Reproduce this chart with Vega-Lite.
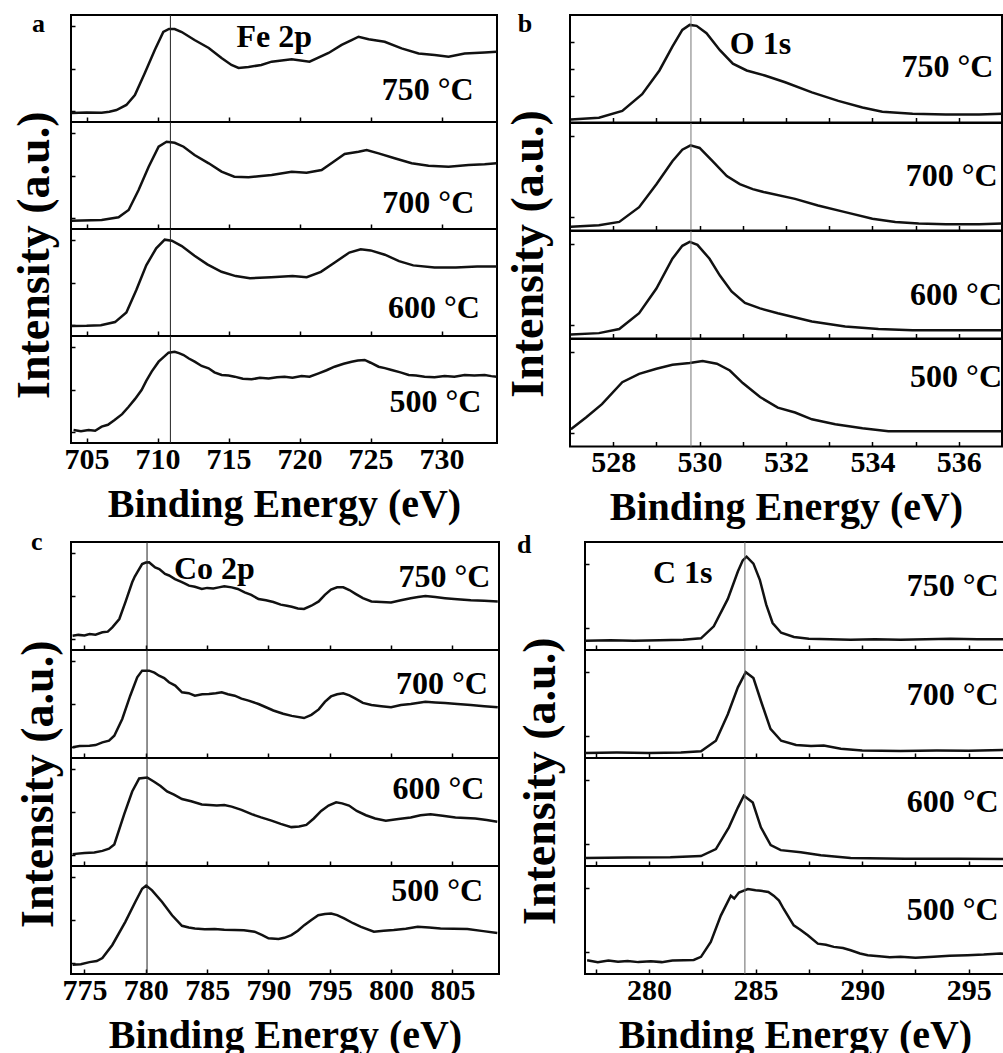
{
"$schema":"https://vega.github.io/schema/vega-lite/v6.json",
"background":"white",
"padding":{"left":12,"top":10,"right":0,"bottom":0},
"config":{
 "view":{"stroke":"black","strokeWidth":2},
 "axis":{"domain":false,"grid":false,"tickColor":"black","tickWidth":1.5,"labelFont":"Liberation Serif","labelFontWeight":"bold","labelFontSize":30,"labelColor":"black","titleFont":"Liberation Serif","titleFontWeight":"bold","titleFontSize":40,"titleColor":"black","labelOverlap":false,"labelFlush":false,"labelBound":false},
 "title":{"font":"Liberation Serif","fontWeight":"bold","color":"black"},
 "text":{"font":"Liberation Serif","fontWeight":"bold","fontSize":32,"color":"black","baseline":"alphabetic"},
 "line":{"color":"#111","strokeWidth":2.5},
 "rule":{"color":"#222","strokeWidth":1}
},
"datasets":{
"a":[
{"t":"750 °C","e":703.94,"i":0.084},{"t":"750 °C","e":705.0,"i":0.088},{"t":"750 °C","e":706.06,"i":0.087},{"t":"750 °C","e":706.6,"i":0.095},{"t":"750 °C","e":707.1,"i":0.112},{"t":"750 °C","e":707.8,"i":0.159},{"t":"750 °C","e":708.4,"i":0.252},{"t":"750 °C","e":709.1,"i":0.458},{"t":"750 °C","e":709.8,"i":0.673},{"t":"750 °C","e":710.4,"i":0.841},{"t":"750 °C","e":710.8,"i":0.869},{"t":"750 °C","e":711.2,"i":0.869},{"t":"750 °C","e":711.7,"i":0.841},{"t":"750 °C","e":712.6,"i":0.766},{"t":"750 °C","e":713.6,"i":0.692},{"t":"750 °C","e":714.5,"i":0.598},{"t":"750 °C","e":715.2,"i":0.533},{"t":"750 °C","e":715.7,"i":0.505},{"t":"750 °C","e":716.4,"i":0.514},{"t":"750 °C","e":717.3,"i":0.533},{"t":"750 °C","e":718.03,"i":0.564},{"t":"750 °C","e":719.44,"i":0.586},{"t":"750 °C","e":720.7,"i":0.564},{"t":"750 °C","e":722.04,"i":0.645},{"t":"750 °C","e":722.96,"i":0.72},{"t":"750 °C","e":723.66,"i":0.766},{"t":"750 °C","e":724.15,"i":0.797},{"t":"750 °C","e":724.86,"i":0.773},{"t":"750 °C","e":725.99,"i":0.75},{"t":"750 °C","e":727.18,"i":0.688},{"t":"750 °C","e":728.38,"i":0.641},{"t":"750 °C","e":729.51,"i":0.626},{"t":"750 °C","e":730.49,"i":0.61},{"t":"750 °C","e":731.62,"i":0.641},{"t":"750 °C","e":733.03,"i":0.65},{"t":"750 °C","e":733.87,"i":0.656},
{"t":"700 °C","e":703.94,"i":0.078},{"t":"700 °C","e":706.06,"i":0.084},{"t":"700 °C","e":707.25,"i":0.109},{"t":"700 °C","e":707.96,"i":0.178},{"t":"700 °C","e":708.66,"i":0.364},{"t":"700 °C","e":709.37,"i":0.582},{"t":"700 °C","e":710.07,"i":0.769},{"t":"700 °C","e":710.63,"i":0.815},{"t":"700 °C","e":711.2,"i":0.806},{"t":"700 °C","e":711.83,"i":0.769},{"t":"700 °C","e":712.6,"i":0.692},{"t":"700 °C","e":713.6,"i":0.614},{"t":"700 °C","e":714.5,"i":0.536},{"t":"700 °C","e":715.4,"i":0.489},{"t":"700 °C","e":716.4,"i":0.483},{"t":"700 °C","e":717.3,"i":0.495},{"t":"700 °C","e":718.03,"i":0.505},{"t":"700 °C","e":719.44,"i":0.536},{"t":"700 °C","e":720.49,"i":0.526},{"t":"700 °C","e":721.55,"i":0.551},{"t":"700 °C","e":722.39,"i":0.629},{"t":"700 °C","e":723.17,"i":0.701},{"t":"700 °C","e":724.15,"i":0.722},{"t":"700 °C","e":724.72,"i":0.738},{"t":"700 °C","e":725.56,"i":0.707},{"t":"700 °C","e":726.69,"i":0.661},{"t":"700 °C","e":727.89,"i":0.614},{"t":"700 °C","e":729.08,"i":0.592},{"t":"700 °C","e":730.49,"i":0.582},{"t":"700 °C","e":731.9,"i":0.598},{"t":"700 °C","e":733.03,"i":0.605},{"t":"700 °C","e":733.87,"i":0.614},
{"t":"600 °C","e":703.94,"i":0.093},{"t":"600 °C","e":705.0,"i":0.095},{"t":"600 °C","e":706.0,"i":0.1},{"t":"600 °C","e":707.0,"i":0.13},{"t":"600 °C","e":707.8,"i":0.22},{"t":"600 °C","e":708.5,"i":0.43},{"t":"600 °C","e":709.2,"i":0.66},{"t":"600 °C","e":709.9,"i":0.82},{"t":"600 °C","e":710.5,"i":0.9},{"t":"600 °C","e":711.0,"i":0.89},{"t":"600 °C","e":711.7,"i":0.84},{"t":"600 °C","e":712.6,"i":0.75},{"t":"600 °C","e":713.5,"i":0.67},{"t":"600 °C","e":714.5,"i":0.6},{"t":"600 °C","e":715.5,"i":0.56},{"t":"600 °C","e":716.5,"i":0.54},{"t":"600 °C","e":718.0,"i":0.55},{"t":"600 °C","e":719.5,"i":0.56},{"t":"600 °C","e":720.5,"i":0.55},{"t":"600 °C","e":721.5,"i":0.6},{"t":"600 °C","e":722.5,"i":0.69},{"t":"600 °C","e":723.5,"i":0.78},{"t":"600 °C","e":724.3,"i":0.81},{"t":"600 °C","e":725.0,"i":0.8},{"t":"600 °C","e":726.0,"i":0.76},{"t":"600 °C","e":727.0,"i":0.7},{"t":"600 °C","e":728.0,"i":0.66},{"t":"600 °C","e":729.5,"i":0.64},{"t":"600 °C","e":731.0,"i":0.64},{"t":"600 °C","e":732.5,"i":0.65},{"t":"600 °C","e":733.9,"i":0.65},
{"t":"500 °C","e":704.08,"i":0.121},{"t":"500 °C","e":704.6,"i":0.11},{"t":"500 °C","e":705.14,"i":0.121},{"t":"500 °C","e":705.6,"i":0.115},{"t":"500 °C","e":706.06,"i":0.153},{"t":"500 °C","e":706.5,"i":0.17},{"t":"500 °C","e":706.97,"i":0.215},{"t":"500 °C","e":707.5,"i":0.27},{"t":"500 °C","e":707.96,"i":0.339},{"t":"500 °C","e":708.4,"i":0.41},{"t":"500 °C","e":708.87,"i":0.495},{"t":"500 °C","e":709.2,"i":0.58},{"t":"500 °C","e":709.58,"i":0.667},{"t":"500 °C","e":710.07,"i":0.76},{"t":"500 °C","e":710.4,"i":0.8},{"t":"500 °C","e":710.77,"i":0.844},{"t":"500 °C","e":711.2,"i":0.853},{"t":"500 °C","e":711.5,"i":0.84},{"t":"500 °C","e":711.83,"i":0.822},{"t":"500 °C","e":712.2,"i":0.79},{"t":"500 °C","e":712.61,"i":0.76},{"t":"500 °C","e":713.1,"i":0.72},{"t":"500 °C","e":713.59,"i":0.698},{"t":"500 °C","e":714.0,"i":0.66},{"t":"500 °C","e":714.51,"i":0.636},{"t":"500 °C","e":715.0,"i":0.63},{"t":"500 °C","e":715.42,"i":0.62},{"t":"500 °C","e":716.0,"i":0.6},{"t":"500 °C","e":716.62,"i":0.595},{"t":"500 °C","e":717.2,"i":0.61},{"t":"500 °C","e":717.82,"i":0.604},{"t":"500 °C","e":718.4,"i":0.615},{"t":"500 °C","e":718.94,"i":0.62},{"t":"500 °C","e":719.5,"i":0.61},{"t":"500 °C","e":720.14,"i":0.626},{"t":"500 °C","e":720.7,"i":0.62},{"t":"500 °C","e":721.34,"i":0.651},{"t":"500 °C","e":721.9,"i":0.68},{"t":"500 °C","e":722.46,"i":0.713},{"t":"500 °C","e":723.1,"i":0.74},{"t":"500 °C","e":723.66,"i":0.76},{"t":"500 °C","e":724.1,"i":0.77},{"t":"500 °C","e":724.58,"i":0.776},{"t":"500 °C","e":725.0,"i":0.75},{"t":"500 °C","e":725.56,"i":0.713},{"t":"500 °C","e":726.0,"i":0.7},{"t":"500 °C","e":726.48,"i":0.682},{"t":"500 °C","e":727.1,"i":0.66},{"t":"500 °C","e":727.68,"i":0.636},{"t":"500 °C","e":728.2,"i":0.63},{"t":"500 °C","e":728.8,"i":0.62},{"t":"500 °C","e":729.5,"i":0.615},{"t":"500 °C","e":730.21,"i":0.626},{"t":"500 °C","e":730.9,"i":0.62},{"t":"500 °C","e":731.62,"i":0.636},{"t":"500 °C","e":732.3,"i":0.63},{"t":"500 °C","e":733.03,"i":0.636},{"t":"500 °C","e":733.5,"i":0.625},{"t":"500 °C","e":733.87,"i":0.62}
],
"b":[
{"t":"750 °C","e":527.02,"i":0.028},{"t":"750 °C","e":527.67,"i":0.044},{"t":"750 °C","e":528.21,"i":0.107},{"t":"750 °C","e":528.67,"i":0.264},{"t":"750 °C","e":529.07,"i":0.484},{"t":"750 °C","e":529.37,"i":0.705},{"t":"750 °C","e":529.6,"i":0.861},{"t":"750 °C","e":529.77,"i":0.908},{"t":"750 °C","e":529.93,"i":0.899},{"t":"750 °C","e":530.16,"i":0.83},{"t":"750 °C","e":530.47,"i":0.673},{"t":"750 °C","e":530.77,"i":0.547},{"t":"750 °C","e":531.09,"i":0.484},{"t":"750 °C","e":531.51,"i":0.437},{"t":"750 °C","e":531.98,"i":0.374},{"t":"750 °C","e":532.6,"i":0.28},{"t":"750 °C","e":533.21,"i":0.201},{"t":"750 °C","e":533.77,"i":0.139},{"t":"750 °C","e":534.23,"i":0.101},{"t":"750 °C","e":534.93,"i":0.082},{"t":"750 °C","e":535.7,"i":0.075},{"t":"750 °C","e":536.47,"i":0.075},{"t":"750 °C","e":537.0,"i":0.082},
{"t":"700 °C","e":527.02,"i":0.034},{"t":"700 °C","e":527.67,"i":0.049},{"t":"700 °C","e":528.14,"i":0.08},{"t":"700 °C","e":528.6,"i":0.217},{"t":"700 °C","e":529.0,"i":0.431},{"t":"700 °C","e":529.37,"i":0.645},{"t":"700 °C","e":529.6,"i":0.752},{"t":"700 °C","e":529.79,"i":0.792},{"t":"700 °C","e":530.0,"i":0.768},{"t":"700 °C","e":530.3,"i":0.645},{"t":"700 °C","e":530.63,"i":0.507},{"t":"700 °C","e":530.93,"i":0.431},{"t":"700 °C","e":531.23,"i":0.385},{"t":"700 °C","e":531.51,"i":0.355},{"t":"700 °C","e":532.21,"i":0.294},{"t":"700 °C","e":532.74,"i":0.232},{"t":"700 °C","e":533.37,"i":0.171},{"t":"700 °C","e":534.0,"i":0.11},{"t":"700 °C","e":534.53,"i":0.08},{"t":"700 °C","e":535.07,"i":0.064},{"t":"700 °C","e":535.7,"i":0.057},{"t":"700 °C","e":536.47,"i":0.057},{"t":"700 °C","e":537.0,"i":0.064},
{"t":"600 °C","e":527.02,"i":0.037},{"t":"600 °C","e":527.67,"i":0.05},{"t":"600 °C","e":528.14,"i":0.088},{"t":"600 °C","e":528.6,"i":0.235},{"t":"600 °C","e":529.0,"i":0.465},{"t":"600 °C","e":529.37,"i":0.742},{"t":"600 °C","e":529.6,"i":0.862},{"t":"600 °C","e":529.77,"i":0.899},{"t":"600 °C","e":529.95,"i":0.871},{"t":"600 °C","e":530.23,"i":0.742},{"t":"600 °C","e":530.47,"i":0.585},{"t":"600 °C","e":530.74,"i":0.438},{"t":"600 °C","e":531.05,"i":0.33},{"t":"600 °C","e":531.4,"i":0.28},{"t":"600 °C","e":531.81,"i":0.235},{"t":"600 °C","e":532.6,"i":0.159},{"t":"600 °C","e":533.37,"i":0.112},{"t":"600 °C","e":534.14,"i":0.088},{"t":"600 °C","e":534.93,"i":0.076},{"t":"600 °C","e":535.7,"i":0.076},{"t":"600 °C","e":537.0,"i":0.076},
{"t":"500 °C","e":527.02,"i":0.16},{"t":"500 °C","e":527.37,"i":0.27},{"t":"500 °C","e":527.74,"i":0.394},{"t":"500 °C","e":528.21,"i":0.598},{"t":"500 °C","e":528.6,"i":0.676},{"t":"500 °C","e":529.0,"i":0.723},{"t":"500 °C","e":529.37,"i":0.761},{"t":"500 °C","e":529.77,"i":0.777},{"t":"500 °C","e":530.07,"i":0.796},{"t":"500 °C","e":530.4,"i":0.77},{"t":"500 °C","e":530.7,"i":0.707},{"t":"500 °C","e":531.0,"i":0.59},{"t":"500 °C","e":531.4,"i":0.46},{"t":"500 °C","e":531.81,"i":0.362},{"t":"500 °C","e":532.21,"i":0.316},{"t":"500 °C","e":532.6,"i":0.253},{"t":"500 °C","e":533.14,"i":0.207},{"t":"500 °C","e":533.77,"i":0.169},{"t":"500 °C","e":534.37,"i":0.143},{"t":"500 °C","e":534.93,"i":0.143},{"t":"500 °C","e":535.7,"i":0.143},{"t":"500 °C","e":537.0,"i":0.143}
],
"c":[
{"t":"750 °C","e":774.03,"i":0.132},{"t":"750 °C","e":774.5,"i":0.14},{"t":"750 °C","e":775.0,"i":0.135},{"t":"750 °C","e":775.41,"i":0.148},{"t":"750 °C","e":775.9,"i":0.142},{"t":"750 °C","e":776.46,"i":0.164},{"t":"750 °C","e":776.9,"i":0.17},{"t":"750 °C","e":777.27,"i":0.21},{"t":"750 °C","e":777.84,"i":0.287},{"t":"750 °C","e":778.33,"i":0.441},{"t":"750 °C","e":778.89,"i":0.627},{"t":"750 °C","e":779.1,"i":0.68},{"t":"750 °C","e":779.3,"i":0.719},{"t":"750 °C","e":779.7,"i":0.796},{"t":"750 °C","e":780.0,"i":0.81},{"t":"750 °C","e":780.27,"i":0.812},{"t":"750 °C","e":780.5,"i":0.79},{"t":"750 °C","e":780.76,"i":0.765},{"t":"750 °C","e":781.1,"i":0.75},{"t":"750 °C","e":781.57,"i":0.704},{"t":"750 °C","e":781.9,"i":0.69},{"t":"750 °C","e":782.38,"i":0.657},{"t":"750 °C","e":782.9,"i":0.63},{"t":"750 °C","e":783.2,"i":0.615},{"t":"750 °C","e":783.52,"i":0.596},{"t":"750 °C","e":784.0,"i":0.585},{"t":"750 °C","e":784.57,"i":0.565},{"t":"750 °C","e":785.0,"i":0.575},{"t":"750 °C","e":785.5,"i":0.57},{"t":"750 °C","e":785.95,"i":0.58},{"t":"750 °C","e":786.4,"i":0.59},{"t":"750 °C","e":787.0,"i":0.58},{"t":"750 °C","e":787.5,"i":0.565},{"t":"750 °C","e":788.06,"i":0.534},{"t":"750 °C","e":788.6,"i":0.51},{"t":"750 °C","e":789.19,"i":0.472},{"t":"750 °C","e":789.8,"i":0.46},{"t":"750 °C","e":790.4,"i":0.444},{"t":"750 °C","e":791.0,"i":0.42},{"t":"750 °C","e":791.5,"i":0.41},{"t":"750 °C","e":791.9,"i":0.4},{"t":"750 °C","e":792.4,"i":0.385},{"t":"750 °C","e":792.9,"i":0.38},{"t":"750 °C","e":793.5,"i":0.41},{"t":"750 °C","e":794.1,"i":0.45},{"t":"750 °C","e":794.6,"i":0.51},{"t":"750 °C","e":795.1,"i":0.56},{"t":"750 °C","e":795.6,"i":0.58},{"t":"750 °C","e":796.1,"i":0.58},{"t":"750 °C","e":796.6,"i":0.555},{"t":"750 °C","e":797.1,"i":0.52},{"t":"750 °C","e":797.7,"i":0.48},{"t":"750 °C","e":798.4,"i":0.45},{"t":"750 °C","e":799.2,"i":0.445},{"t":"750 °C","e":800.0,"i":0.44},{"t":"750 °C","e":800.8,"i":0.46},{"t":"750 °C","e":801.6,"i":0.48},{"t":"750 °C","e":802.2,"i":0.49},{"t":"750 °C","e":802.8,"i":0.5},{"t":"750 °C","e":803.6,"i":0.49},{"t":"750 °C","e":804.4,"i":0.48},{"t":"750 °C","e":805.4,"i":0.47},{"t":"750 °C","e":806.5,"i":0.46},{"t":"750 °C","e":807.6,"i":0.455},{"t":"750 °C","e":808.7,"i":0.45},
{"t":"700 °C","e":774.03,"i":0.1},{"t":"700 °C","e":774.6,"i":0.11},{"t":"700 °C","e":775.41,"i":0.114},{"t":"700 °C","e":775.9,"i":0.12},{"t":"700 °C","e":776.46,"i":0.145},{"t":"700 °C","e":777.0,"i":0.16},{"t":"700 °C","e":777.43,"i":0.206},{"t":"700 °C","e":778.08,"i":0.361},{"t":"700 °C","e":778.73,"i":0.577},{"t":"700 °C","e":779.3,"i":0.747},{"t":"700 °C","e":779.7,"i":0.809},{"t":"700 °C","e":780.27,"i":0.809},{"t":"700 °C","e":780.7,"i":0.79},{"t":"700 °C","e":781.08,"i":0.762},{"t":"700 °C","e":781.5,"i":0.74},{"t":"700 °C","e":781.89,"i":0.701},{"t":"700 °C","e":782.4,"i":0.67},{"t":"700 °C","e":782.95,"i":0.608},{"t":"700 °C","e":783.5,"i":0.6},{"t":"700 °C","e":784.0,"i":0.577},{"t":"700 °C","e":784.6,"i":0.59},{"t":"700 °C","e":785.14,"i":0.593},{"t":"700 °C","e":785.7,"i":0.6},{"t":"700 °C","e":786.19,"i":0.608},{"t":"700 °C","e":786.7,"i":0.59},{"t":"700 °C","e":787.25,"i":0.577},{"t":"700 °C","e":787.8,"i":0.55},{"t":"700 °C","e":788.38,"i":0.531},{"t":"700 °C","e":789.19,"i":0.5},{"t":"700 °C","e":789.8,"i":0.47},{"t":"700 °C","e":790.4,"i":0.44},{"t":"700 °C","e":791.2,"i":0.41},{"t":"700 °C","e":791.9,"i":0.39},{"t":"700 °C","e":792.9,"i":0.37},{"t":"700 °C","e":793.5,"i":0.4},{"t":"700 °C","e":794.1,"i":0.45},{"t":"700 °C","e":794.6,"i":0.52},{"t":"700 °C","e":795.1,"i":0.57},{"t":"700 °C","e":795.6,"i":0.59},{"t":"700 °C","e":796.1,"i":0.6},{"t":"700 °C","e":796.6,"i":0.58},{"t":"700 °C","e":797.1,"i":0.55},{"t":"700 °C","e":797.7,"i":0.51},{"t":"700 °C","e":798.4,"i":0.49},{"t":"700 °C","e":799.2,"i":0.48},{"t":"700 °C","e":800.0,"i":0.47},{"t":"700 °C","e":800.8,"i":0.49},{"t":"700 °C","e":801.6,"i":0.5},{"t":"700 °C","e":802.8,"i":0.52},{"t":"700 °C","e":803.6,"i":0.515},{"t":"700 °C","e":804.4,"i":0.51},{"t":"700 °C","e":805.4,"i":0.5},{"t":"700 °C","e":806.5,"i":0.49},{"t":"700 °C","e":807.6,"i":0.48},{"t":"700 °C","e":808.7,"i":0.47},
{"t":"600 °C","e":774.03,"i":0.11},{"t":"600 °C","e":775.0,"i":0.12},{"t":"600 °C","e":775.8,"i":0.125},{"t":"600 °C","e":776.46,"i":0.14},{"t":"600 °C","e":777.0,"i":0.16},{"t":"600 °C","e":777.43,"i":0.2},{"t":"600 °C","e":778.24,"i":0.48},{"t":"600 °C","e":778.89,"i":0.69},{"t":"600 °C","e":779.46,"i":0.81},{"t":"600 °C","e":780.11,"i":0.82},{"t":"600 °C","e":780.68,"i":0.78},{"t":"600 °C","e":781.2,"i":0.74},{"t":"600 °C","e":781.73,"i":0.69},{"t":"600 °C","e":782.3,"i":0.66},{"t":"600 °C","e":782.95,"i":0.62},{"t":"600 °C","e":783.7,"i":0.6},{"t":"600 °C","e":784.57,"i":0.57},{"t":"600 °C","e":785.2,"i":0.565},{"t":"600 °C","e":785.79,"i":0.56},{"t":"600 °C","e":786.4,"i":0.565},{"t":"600 °C","e":787.0,"i":0.55},{"t":"600 °C","e":787.8,"i":0.52},{"t":"600 °C","e":788.63,"i":0.48},{"t":"600 °C","e":789.4,"i":0.45},{"t":"600 °C","e":790.25,"i":0.42},{"t":"600 °C","e":791.0,"i":0.39},{"t":"600 °C","e":791.87,"i":0.36},{"t":"600 °C","e":792.5,"i":0.365},{"t":"600 °C","e":793.09,"i":0.38},{"t":"600 °C","e":793.7,"i":0.44},{"t":"600 °C","e":794.3,"i":0.51},{"t":"600 °C","e":794.9,"i":0.56},{"t":"600 °C","e":795.52,"i":0.59},{"t":"600 °C","e":796.0,"i":0.58},{"t":"600 °C","e":796.57,"i":0.56},{"t":"600 °C","e":797.2,"i":0.51},{"t":"600 °C","e":797.95,"i":0.47},{"t":"600 °C","e":798.7,"i":0.44},{"t":"600 °C","e":799.57,"i":0.42},{"t":"600 °C","e":800.6,"i":0.435},{"t":"600 °C","e":801.6,"i":0.45},{"t":"600 °C","e":802.4,"i":0.47},{"t":"600 °C","e":803.22,"i":0.48},{"t":"600 °C","e":804.2,"i":0.465},{"t":"600 °C","e":805.25,"i":0.45},{"t":"600 °C","e":806.87,"i":0.44},{"t":"600 °C","e":807.8,"i":0.425},{"t":"600 °C","e":808.66,"i":0.41},
{"t":"500 °C","e":774.03,"i":0.085},{"t":"500 °C","e":774.7,"i":0.09},{"t":"500 °C","e":775.41,"i":0.11},{"t":"500 °C","e":776.0,"i":0.12},{"t":"500 °C","e":776.46,"i":0.147},{"t":"500 °C","e":777.27,"i":0.269},{"t":"500 °C","e":778.33,"i":0.483},{"t":"500 °C","e":779.14,"i":0.667},{"t":"500 °C","e":779.7,"i":0.789},{"t":"500 °C","e":780.03,"i":0.819},{"t":"500 °C","e":780.51,"i":0.774},{"t":"500 °C","e":781.33,"i":0.667},{"t":"500 °C","e":782.14,"i":0.544},{"t":"500 °C","e":782.95,"i":0.446},{"t":"500 °C","e":783.5,"i":0.43},{"t":"500 °C","e":784.0,"i":0.422},{"t":"500 °C","e":784.8,"i":0.415},{"t":"500 °C","e":785.62,"i":0.416},{"t":"500 °C","e":786.4,"i":0.41},{"t":"500 °C","e":787.25,"i":0.407},{"t":"500 °C","e":788.0,"i":0.405},{"t":"500 °C","e":788.87,"i":0.392},{"t":"500 °C","e":789.5,"i":0.36},{"t":"500 °C","e":790.0,"i":0.33},{"t":"500 °C","e":790.82,"i":0.324},{"t":"500 °C","e":791.3,"i":0.335},{"t":"500 °C","e":791.87,"i":0.36},{"t":"500 °C","e":792.4,"i":0.4},{"t":"500 °C","e":792.92,"i":0.452},{"t":"500 °C","e":793.5,"i":0.5},{"t":"500 °C","e":794.06,"i":0.544},{"t":"500 °C","e":794.6,"i":0.555},{"t":"500 °C","e":795.11,"i":0.56},{"t":"500 °C","e":795.6,"i":0.545},{"t":"500 °C","e":796.17,"i":0.514},{"t":"500 °C","e":796.9,"i":0.47},{"t":"500 °C","e":797.55,"i":0.437},{"t":"500 °C","e":798.6,"i":0.392},{"t":"500 °C","e":799.4,"i":0.4},{"t":"500 °C","e":800.22,"i":0.407},{"t":"500 °C","e":801.2,"i":0.42},{"t":"500 °C","e":802.17,"i":0.437},{"t":"500 °C","e":803.1,"i":0.43},{"t":"500 °C","e":804.03,"i":0.422},{"t":"500 °C","e":805.1,"i":0.42},{"t":"500 °C","e":806.22,"i":0.416},{"t":"500 °C","e":807.52,"i":0.397},{"t":"500 °C","e":808.66,"i":0.38}
],
"d":[
{"t":"750 °C","e":277.0,"i":0.086},{"t":"750 °C","e":278.2,"i":0.09},{"t":"750 °C","e":279.3,"i":0.086},{"t":"750 °C","e":280.5,"i":0.09},{"t":"750 °C","e":281.6,"i":0.095},{"t":"750 °C","e":282.44,"i":0.108},{"t":"750 °C","e":283.04,"i":0.219},{"t":"750 °C","e":283.7,"i":0.473},{"t":"750 °C","e":284.17,"i":0.727},{"t":"750 °C","e":284.4,"i":0.83},{"t":"750 °C","e":284.58,"i":0.864},{"t":"750 °C","e":284.9,"i":0.8},{"t":"750 °C","e":285.2,"i":0.65},{"t":"750 °C","e":285.5,"i":0.42},{"t":"750 °C","e":285.8,"i":0.25},{"t":"750 °C","e":286.2,"i":0.16},{"t":"750 °C","e":286.8,"i":0.12},{"t":"750 °C","e":287.5,"i":0.105},{"t":"750 °C","e":288.5,"i":0.1},{"t":"750 °C","e":289.46,"i":0.095},{"t":"750 °C","e":290.6,"i":0.1},{"t":"750 °C","e":291.8,"i":0.095},{"t":"750 °C","e":293.0,"i":0.1},{"t":"750 °C","e":294.15,"i":0.105},{"t":"750 °C","e":295.4,"i":0.1},{"t":"750 °C","e":296.7,"i":0.1},
{"t":"700 °C","e":277.0,"i":0.047},{"t":"700 °C","e":278.5,"i":0.05},{"t":"700 °C","e":280.0,"i":0.047},{"t":"700 °C","e":281.5,"i":0.052},{"t":"700 °C","e":282.44,"i":0.063},{"t":"700 °C","e":283.14,"i":0.16},{"t":"700 °C","e":283.7,"i":0.405},{"t":"700 °C","e":284.17,"i":0.654},{"t":"700 °C","e":284.54,"i":0.794},{"t":"700 °C","e":284.9,"i":0.74},{"t":"700 °C","e":285.3,"i":0.5},{"t":"700 °C","e":285.7,"i":0.27},{"t":"700 °C","e":286.2,"i":0.16},{"t":"700 °C","e":286.9,"i":0.12},{"t":"700 °C","e":287.6,"i":0.11},{"t":"700 °C","e":288.2,"i":0.115},{"t":"700 °C","e":289.0,"i":0.085},{"t":"700 °C","e":290.0,"i":0.07},{"t":"700 °C","e":291.8,"i":0.065},{"t":"700 °C","e":293.5,"i":0.07},{"t":"700 °C","e":295.0,"i":0.068},{"t":"700 °C","e":296.7,"i":0.075},
{"t":"600 °C","e":277.0,"i":0.073},{"t":"600 °C","e":279.0,"i":0.078},{"t":"600 °C","e":281.0,"i":0.082},{"t":"600 °C","e":282.44,"i":0.092},{"t":"600 °C","e":283.14,"i":0.156},{"t":"600 °C","e":283.75,"i":0.358},{"t":"600 °C","e":284.17,"i":0.541},{"t":"600 °C","e":284.45,"i":0.651},{"t":"600 °C","e":284.87,"i":0.587},{"t":"600 °C","e":285.25,"i":0.358},{"t":"600 °C","e":285.71,"i":0.193},{"t":"600 °C","e":286.18,"i":0.147},{"t":"600 °C","e":287.12,"i":0.128},{"t":"600 °C","e":288.06,"i":0.1},{"t":"600 °C","e":289.46,"i":0.073},{"t":"600 °C","e":292.0,"i":0.068},{"t":"600 °C","e":294.5,"i":0.066},{"t":"600 °C","e":296.7,"i":0.064},
{"t":"500 °C","e":277.1,"i":0.128},{"t":"500 °C","e":277.6,"i":0.11},{"t":"500 °C","e":278.1,"i":0.125},{"t":"500 °C","e":278.55,"i":0.113},{"t":"500 °C","e":279.0,"i":0.12},{"t":"500 °C","e":279.5,"i":0.11},{"t":"500 °C","e":280.09,"i":0.119},{"t":"500 °C","e":280.6,"i":0.11},{"t":"500 °C","e":281.1,"i":0.125},{"t":"500 °C","e":281.64,"i":0.128},{"t":"500 °C","e":282.1,"i":0.13},{"t":"500 °C","e":282.44,"i":0.159},{"t":"500 °C","e":282.9,"i":0.296},{"t":"500 °C","e":283.37,"i":0.541},{"t":"500 °C","e":283.84,"i":0.725},{"t":"500 °C","e":284.0,"i":0.7},{"t":"500 °C","e":284.22,"i":0.755},{"t":"500 °C","e":284.64,"i":0.786},{"t":"500 °C","e":285.0,"i":0.775},{"t":"500 °C","e":285.25,"i":0.771},{"t":"500 °C","e":285.6,"i":0.76},{"t":"500 °C","e":285.85,"i":0.725},{"t":"500 °C","e":286.1,"i":0.68},{"t":"500 °C","e":286.32,"i":0.602},{"t":"500 °C","e":286.79,"i":0.45},{"t":"500 °C","e":287.1,"i":0.41},{"t":"500 °C","e":287.45,"i":0.358},{"t":"500 °C","e":287.92,"i":0.281},{"t":"500 °C","e":288.3,"i":0.27},{"t":"500 °C","e":288.67,"i":0.251},{"t":"500 °C","e":289.1,"i":0.24},{"t":"500 °C","e":289.46,"i":0.22},{"t":"500 °C","e":289.9,"i":0.19},{"t":"500 °C","e":290.26,"i":0.174},{"t":"500 °C","e":290.8,"i":0.165},{"t":"500 °C","e":291.3,"i":0.155},{"t":"500 °C","e":291.8,"i":0.159},{"t":"500 °C","e":292.5,"i":0.15},{"t":"500 °C","e":293.35,"i":0.159},{"t":"500 °C","e":294.1,"i":0.17},{"t":"500 °C","e":294.94,"i":0.174},{"t":"500 °C","e":295.7,"i":0.18},{"t":"500 °C","e":296.49,"i":0.19},{"t":"500 °C","e":296.7,"i":0.185}
]
},
"spacing":-1,
"vconcat":[
{"hconcat":[
{"title":{"text":"a","anchor":"start","frame":"bounds","offset":-44,"dx":20,"fontSize":26,"baseline":"alphabetic"},
 "vconcat":[{"title":{"text":"Intensity (a.u.)","orient":"left","anchor":"middle","frame":"bounds","fontSize":46,"offset":4,"dx":14},
 "spacing":0,"bounds":"flush",
 "vconcat":[
 {"width":426,"height":107,"layer":[
  {"data":{"name":"a"},"transform":[{"filter":"datum.t == '750 °C'"}],"mark":"line","encoding":{"x":{"field":"e","type":"quantitative","scale":{"domain":[703.9,733.9],"nice":false},"axis":{"values":[705,707.5,710,712.5,715,717.5,720,722.5,725,727.5,730,732.5],"labels":false,"title":null,"tickSize":-5}},"y":{"field":"i","type":"quantitative","scale":{"domain":[0,1],"nice":false},"axis":{"values":[0.1,0.2,0.3,0.4,0.5,0.6,0.7,0.8,0.9],"labels":false,"title":null,"tickSize":-4}}}},
  {"data":{"values":[{}]},"mark":"rule","encoding":{"x":{"datum":710.9}}},
  {"data":{"values":[{"s":"750 °C"}]},"mark":{"type":"text","align":"right"},"encoding":{"text":{"field":"s"},"x":{"datum":732.25},"y":{"datum":0.206}}},
  {"data":{"values":[{"s":"Fe 2p"}]},"mark":{"type":"text","align":"left"},"encoding":{"text":{"field":"s"},"x":{"datum":715.56},"y":{"datum":0.7}}}
 ]},
 {"width":426,"height":107,"layer":[
  {"data":{"name":"a"},"transform":[{"filter":"datum.t == '700 °C'"}],"mark":"line","encoding":{"x":{"field":"e","type":"quantitative","scale":{"domain":[703.9,733.9],"nice":false},"axis":{"values":[705,707.5,710,712.5,715,717.5,720,722.5,725,727.5,730,732.5],"labels":false,"title":null,"tickSize":-5}},"y":{"field":"i","type":"quantitative","scale":{"domain":[0,1],"nice":false},"axis":{"values":[0.1,0.2,0.3,0.4,0.5,0.6,0.7,0.8,0.9],"labels":false,"title":null,"tickSize":-4}}}},
  {"data":{"values":[{}]},"mark":"rule","encoding":{"x":{"datum":710.9}}},
  {"data":{"values":[{"s":"700 °C"}]},"mark":{"type":"text","align":"right"},"encoding":{"text":{"field":"s"},"x":{"datum":732.3},"y":{"datum":0.15}}}
 ]},
 {"width":426,"height":107,"layer":[
  {"data":{"name":"a"},"transform":[{"filter":"datum.t == '600 °C'"}],"mark":"line","encoding":{"x":{"field":"e","type":"quantitative","scale":{"domain":[703.9,733.9],"nice":false},"axis":{"values":[705,707.5,710,712.5,715,717.5,720,722.5,725,727.5,730,732.5],"labels":false,"title":null,"tickSize":-5}},"y":{"field":"i","type":"quantitative","scale":{"domain":[0,1],"nice":false},"axis":{"values":[0.1,0.2,0.3,0.4,0.5,0.6,0.7,0.8,0.9],"labels":false,"title":null,"tickSize":-4}}}},
  {"data":{"values":[{}]},"mark":"rule","encoding":{"x":{"datum":710.9}}},
  {"data":{"values":[{"s":"600 °C"}]},"mark":{"type":"text","align":"right"},"encoding":{"text":{"field":"s"},"x":{"datum":732.7},"y":{"datum":0.17}}}
 ]},
 {"width":426,"height":107,"layer":[
  {"data":{"name":"a"},"transform":[{"filter":"datum.t == '500 °C'"}],"mark":"line","encoding":{"x":{"field":"e","type":"quantitative","scale":{"domain":[703.9,733.9],"nice":false},"axis":{"values":[705,707.5,710,712.5,715,717.5,720,722.5,725,727.5,730,732.5],"labelExpr":"datum.value % 5 == 0 ? format(datum.value, 'd') : ''","title":"Binding Energy (eV)","tickSize":-5,"labelPadding":6,"titlePadding":10}},"y":{"field":"i","type":"quantitative","scale":{"domain":[0,1],"nice":false},"axis":{"values":[0.1,0.2,0.3,0.4,0.5,0.6,0.7,0.8,0.9],"labels":false,"title":null,"tickSize":-4}}}},
  {"data":{"values":[{}]},"mark":"rule","encoding":{"x":{"datum":710.9}}},
  {"data":{"values":[{"s":"500 °C"}]},"mark":{"type":"text","align":"right"},"encoding":{"text":{"field":"s"},"x":{"datum":732.8},"y":{"datum":0.29}}}
 ]}
 ]}]},
{"title":{"text":"b","anchor":"start","frame":"bounds","offset":-44,"dx":12,"fontSize":26,"baseline":"alphabetic"},
 "vconcat":[{"title":{"text":"Intensity (a.u.)","orient":"left","anchor":"middle","frame":"bounds","fontSize":46,"offset":12,"dx":17},
 "spacing":0,"bounds":"flush",
 "vconcat":[
 {"width":432,"height":107.5,"layer":[
  {"data":{"name":"b"},"transform":[{"filter":"datum.t == '750 °C'"}],"mark":"line","encoding":{"x":{"field":"e","type":"quantitative","scale":{"domain":[527,537],"nice":false},"axis":{"values":[528,529,530,531,532,533,534,535,536],"labels":false,"title":null,"tickSize":-5}},"y":{"field":"i","type":"quantitative","scale":{"domain":[0,1],"nice":false},"axis":{"values":[0.25,0.5,0.75],"labels":false,"title":null,"tickSize":-4}}}},
  {"data":{"values":[{}]},"mark":{"type":"rule","color":"#777"},"encoding":{"x":{"datum":529.8}}},
  {"data":{"values":[{"s":"750 °C"}]},"mark":{"type":"text","align":"right"},"encoding":{"text":{"field":"s"},"x":{"datum":536.8},"y":{"datum":0.42}}},
  {"data":{"values":[{"s":"O 1s"}]},"mark":{"type":"text","align":"left"},"encoding":{"text":{"field":"s"},"x":{"datum":530.7},"y":{"datum":0.64}}}
 ]},
 {"width":432,"height":107.5,"layer":[
  {"data":{"name":"b"},"transform":[{"filter":"datum.t == '700 °C'"}],"mark":"line","encoding":{"x":{"field":"e","type":"quantitative","scale":{"domain":[527,537],"nice":false},"axis":{"values":[528,529,530,531,532,533,534,535,536],"labels":false,"title":null,"tickSize":-5}},"y":{"field":"i","type":"quantitative","scale":{"domain":[0,1],"nice":false},"axis":{"values":[0.125,0.25,0.375,0.5,0.625,0.75,0.875],"labels":false,"title":null,"tickSize":-4}}}},
  {"data":{"values":[{}]},"mark":{"type":"rule","color":"#777"},"encoding":{"x":{"datum":529.8}}},
  {"data":{"values":[{"s":"700 °C"}]},"mark":{"type":"text","align":"right"},"encoding":{"text":{"field":"s"},"x":{"datum":536.9},"y":{"datum":0.41}}}
 ]},
 {"width":432,"height":107.5,"layer":[
  {"data":{"name":"b"},"transform":[{"filter":"datum.t == '600 °C'"}],"mark":"line","encoding":{"x":{"field":"e","type":"quantitative","scale":{"domain":[527,537],"nice":false},"axis":{"values":[528,529,530,531,532,533,534,535,536],"labels":false,"title":null,"tickSize":-5}},"y":{"field":"i","type":"quantitative","scale":{"domain":[0,1],"nice":false},"axis":{"values":[0.125,0.25,0.375,0.5,0.625,0.75,0.875],"labels":false,"title":null,"tickSize":-4}}}},
  {"data":{"values":[{}]},"mark":{"type":"rule","color":"#777"},"encoding":{"x":{"datum":529.8}}},
  {"data":{"values":[{"s":"600 °C"}]},"mark":{"type":"text","align":"right"},"encoding":{"text":{"field":"s"},"x":{"datum":537},"y":{"datum":0.31}}}
 ]},
 {"width":432,"height":107.5,"layer":[
  {"data":{"name":"b"},"transform":[{"filter":"datum.t == '500 °C'"}],"mark":"line","encoding":{"x":{"field":"e","type":"quantitative","scale":{"domain":[527,537],"nice":false},"axis":{"values":[528,529,530,531,532,533,534,535,536],"labelExpr":"datum.value % 2 == 0 ? format(datum.value, 'd') : ''","title":"Binding Energy (eV)","tickSize":-5,"labelPadding":6,"titlePadding":10}},"y":{"field":"i","type":"quantitative","scale":{"domain":[0,1],"nice":false},"axis":{"values":[0.125,0.25,0.375,0.5,0.625,0.75,0.875],"labels":false,"title":null,"tickSize":-4}}}},
  {"data":{"values":[{}]},"mark":{"type":"rule","color":"#777"},"encoding":{"x":{"datum":529.8}}},
  {"data":{"values":[{"s":"500 °C"}]},"mark":{"type":"text","align":"right"},"encoding":{"text":{"field":"s"},"x":{"datum":537},"y":{"datum":0.55}}}
 ]}
 ]}]}
],"spacing":2},
{"hconcat":[
{"title":{"text":"c","anchor":"start","frame":"bounds","offset":-35,"dx":15,"fontSize":26,"baseline":"alphabetic"},
 "vconcat":[{"title":{"text":"Intensity (a.u.)","orient":"left","anchor":"middle","frame":"bounds","fontSize":46,"offset":-2,"dx":14},
 "spacing":0,"bounds":"flush",
 "vconcat":[
 {"width":428,"height":108,"layer":[
  {"data":{"name":"c"},"transform":[{"filter":"datum.t == '750 °C'"}],"mark":"line","encoding":{"x":{"field":"e","type":"quantitative","scale":{"domain":[773.9,808.8],"nice":false},"axis":{"values":[775,777.5,780,782.5,785,787.5,790,792.5,795,797.5,800,802.5,805,807.5],"labels":false,"title":null,"tickSize":-5}},"y":{"field":"i","type":"quantitative","scale":{"domain":[0,1],"nice":false},"axis":{"values":[0.1,0.2,0.3,0.4,0.5,0.6,0.7,0.8,0.9],"labels":false,"title":null,"tickSize":-4}}}},
  {"data":{"values":[{}]},"mark":"rule","encoding":{"x":{"datum":780.1}}},
  {"data":{"values":[{"s":"750 °C"}]},"mark":{"type":"text","align":"right"},"encoding":{"text":{"field":"s"},"x":{"datum":808.1},"y":{"datum":0.58}}},
  {"data":{"values":[{"s":"Co 2p"}]},"mark":{"type":"text","align":"left"},"encoding":{"text":{"field":"s"},"x":{"datum":782.3},"y":{"datum":0.66}}}
 ]},
 {"width":428,"height":108,"layer":[
  {"data":{"name":"c"},"transform":[{"filter":"datum.t == '700 °C'"}],"mark":"line","encoding":{"x":{"field":"e","type":"quantitative","scale":{"domain":[773.9,808.8],"nice":false},"axis":{"values":[775,777.5,780,782.5,785,787.5,790,792.5,795,797.5,800,802.5,805,807.5],"labels":false,"title":null,"tickSize":-5}},"y":{"field":"i","type":"quantitative","scale":{"domain":[0,1],"nice":false},"axis":{"values":[0.1,0.2,0.3,0.4,0.5,0.6,0.7,0.8,0.9],"labels":false,"title":null,"tickSize":-4}}}},
  {"data":{"values":[{}]},"mark":"rule","encoding":{"x":{"datum":780.1}}},
  {"data":{"values":[{"s":"700 °C"}]},"mark":{"type":"text","align":"right"},"encoding":{"text":{"field":"s"},"x":{"datum":807.9},"y":{"datum":0.59}}}
 ]},
 {"width":428,"height":108,"layer":[
  {"data":{"name":"c"},"transform":[{"filter":"datum.t == '600 °C'"}],"mark":"line","encoding":{"x":{"field":"e","type":"quantitative","scale":{"domain":[773.9,808.8],"nice":false},"axis":{"values":[775,777.5,780,782.5,785,787.5,790,792.5,795,797.5,800,802.5,805,807.5],"labels":false,"title":null,"tickSize":-5}},"y":{"field":"i","type":"quantitative","scale":{"domain":[0,1],"nice":false},"axis":{"values":[0.1,0.2,0.3,0.4,0.5,0.6,0.7,0.8,0.9],"labels":false,"title":null,"tickSize":-4}}}},
  {"data":{"values":[{}]},"mark":"rule","encoding":{"x":{"datum":780.1}}},
  {"data":{"values":[{"s":"600 °C"}]},"mark":{"type":"text","align":"right"},"encoding":{"text":{"field":"s"},"x":{"datum":807.6},"y":{"datum":0.62}}}
 ]},
 {"width":428,"height":108,"layer":[
  {"data":{"name":"c"},"transform":[{"filter":"datum.t == '500 °C'"}],"mark":"line","encoding":{"x":{"field":"e","type":"quantitative","scale":{"domain":[773.9,808.8],"nice":false},"axis":{"values":[775,777.5,780,782.5,785,787.5,790,792.5,795,797.5,800,802.5,805,807.5],"labelExpr":"datum.value % 5 == 0 ? format(datum.value, 'd') : ''","title":"Binding Energy (eV)","tickSize":-5,"labelPadding":6,"titlePadding":10}},"y":{"field":"i","type":"quantitative","scale":{"domain":[0,1],"nice":false},"axis":{"values":[0.1,0.2,0.3,0.4,0.5,0.6,0.7,0.8,0.9],"labels":false,"title":null,"tickSize":-4}}}},
  {"data":{"values":[{}]},"mark":"rule","encoding":{"x":{"datum":780.1}}},
  {"data":{"values":[{"s":"500 °C"}]},"mark":{"type":"text","align":"right"},"encoding":{"text":{"field":"s"},"x":{"datum":807.5},"y":{"datum":0.68}}}
 ]}
 ]}]},
{"title":{"text":"d","anchor":"start","frame":"bounds","offset":-38,"dx":-1,"fontSize":26,"baseline":"alphabetic"},
 "vconcat":[{"title":{"text":"Intensity (a.u.)","orient":"left","anchor":"middle","frame":"bounds","fontSize":46,"offset":14,"dx":17},
 "spacing":0,"bounds":"flush",
 "vconcat":[
 {"width":420,"height":108,"layer":[
  {"data":{"name":"d"},"transform":[{"filter":"datum.t == '750 °C'"}],"mark":"line","encoding":{"x":{"field":"e","type":"quantitative","scale":{"domain":[277,296.7],"nice":false},"axis":{"values":[277.5,280,282.5,285,287.5,290,292.5,295],"labels":false,"title":null,"tickSize":-5}},"y":{"field":"i","type":"quantitative","scale":{"domain":[0,1],"nice":false},"axis":{"values":[0.2,0.4,0.6,0.8],"labels":false,"title":null,"tickSize":-4}}}},
  {"data":{"values":[{}]},"mark":{"type":"rule","color":"#666"},"encoding":{"x":{"datum":284.5}}},
  {"data":{"values":[{"s":"750 °C"}]},"mark":{"type":"text","align":"right"},"encoding":{"text":{"field":"s"},"x":{"datum":296.4},"y":{"datum":0.5}}},
  {"data":{"values":[{"s":"C 1s"}]},"mark":{"type":"text","align":"left"},"encoding":{"text":{"field":"s"},"x":{"datum":280.19},"y":{"datum":0.62}}}
 ]},
 {"width":420,"height":108,"layer":[
  {"data":{"name":"d"},"transform":[{"filter":"datum.t == '700 °C'"}],"mark":"line","encoding":{"x":{"field":"e","type":"quantitative","scale":{"domain":[277,296.7],"nice":false},"axis":{"values":[277.5,280,282.5,285,287.5,290,292.5,295],"labels":false,"title":null,"tickSize":-5}},"y":{"field":"i","type":"quantitative","scale":{"domain":[0,1],"nice":false},"axis":{"values":[0.2,0.4,0.6,0.8],"labels":false,"title":null,"tickSize":-4}}}},
  {"data":{"values":[{}]},"mark":{"type":"rule","color":"#666"},"encoding":{"x":{"datum":284.5}}},
  {"data":{"values":[{"s":"700 °C"}]},"mark":{"type":"text","align":"right"},"encoding":{"text":{"field":"s"},"x":{"datum":296.4},"y":{"datum":0.49}}}
 ]},
 {"width":420,"height":108,"layer":[
  {"data":{"name":"d"},"transform":[{"filter":"datum.t == '600 °C'"}],"mark":"line","encoding":{"x":{"field":"e","type":"quantitative","scale":{"domain":[277,296.7],"nice":false},"axis":{"values":[277.5,280,282.5,285,287.5,290,292.5,295],"labels":false,"title":null,"tickSize":-5}},"y":{"field":"i","type":"quantitative","scale":{"domain":[0,1],"nice":false},"axis":{"values":[0.2,0.4,0.6,0.8],"labels":false,"title":null,"tickSize":-4}}}},
  {"data":{"values":[{}]},"mark":{"type":"rule","color":"#666"},"encoding":{"x":{"datum":284.5}}},
  {"data":{"values":[{"s":"600 °C"}]},"mark":{"type":"text","align":"right"},"encoding":{"text":{"field":"s"},"x":{"datum":296.4},"y":{"datum":0.5}}}
 ]},
 {"width":420,"height":108,"layer":[
  {"data":{"name":"d"},"transform":[{"filter":"datum.t == '500 °C'"}],"mark":"line","encoding":{"x":{"field":"e","type":"quantitative","scale":{"domain":[277,296.7],"nice":false},"axis":{"values":[277.5,280,282.5,285,287.5,290,292.5,295],"labelExpr":"datum.value % 5 == 0 ? format(datum.value, 'd') : ''","title":"Binding Energy (eV)","tickSize":-5,"labelPadding":6,"titlePadding":10}},"y":{"field":"i","type":"quantitative","scale":{"domain":[0,1],"nice":false},"axis":{"values":[0.2,0.4,0.6,0.8],"labels":false,"title":null,"tickSize":-4}}}},
  {"data":{"values":[{}]},"mark":{"type":"rule","color":"#666"},"encoding":{"x":{"datum":284.5}}},
  {"data":{"values":[{"s":"500 °C"}]},"mark":{"type":"text","align":"right"},"encoding":{"text":{"field":"s"},"x":{"datum":296.4},"y":{"datum":0.5}}}
 ]}
 ]}]}
],"spacing":12}
]
}
